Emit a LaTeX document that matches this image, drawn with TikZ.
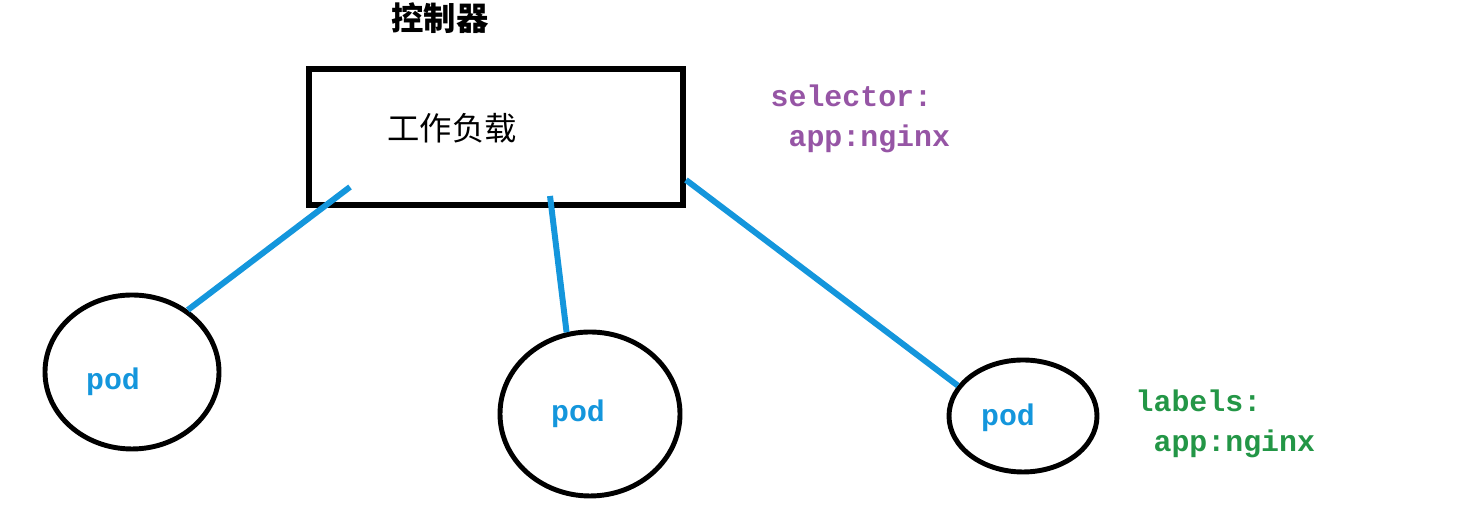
\documentclass[tikz,border=0pt]{standalone}
\usepackage{fontspec}
\setmonofont{Liberation Mono}
\newfontfamily\cjk{Noto Sans CJK SC}
\usetikzlibrary{shapes.geometric}

\definecolor{linkblue}{RGB}{20,150,220}
\definecolor{selpurple}{RGB}{150,85,165}
\definecolor{labgreen}{RGB}{35,150,70}

\begin{document}
\begin{tikzpicture}[
    font=\ttfamily\bfseries\fontsize{8.5}{11.4}\selectfont,
    work/.style={draw, line width=1.7pt, minimum width=3.74cm, minimum height=1.36cm, inner sep=0pt},
    pod/.style={draw, ellipse, line width=1.4pt, inner sep=0pt},
    podtext/.style={text=linkblue},
    link/.style={draw=linkblue, line width=1.7pt},
    note/.style={align=left, anchor=west, inner sep=0pt}
  ]
    \useasboundingbox (0,0) rectangle (14.69,5.06);
    % workload box and its titles
    \node[work] (wl) at (4.96,3.69) {};
    \node[font=\cjk\bfseries\fontsize{9.2}{11}\selectfont] (ctrl) at (4.40,4.88) {控制器};
    \node[font=\cjk\fontsize{9.2}{11}\selectfont] (wlname) at (4.52,3.78) {工作负载};
    % pods
    \node[pod, minimum width=1.74cm, minimum height=1.54cm,
      label={[podtext, xshift=-0.19cm, yshift=-0.10cm]center:pod}] (pod1) at (1.32,1.34) {};
    \node[pod, minimum width=1.80cm, minimum height=1.64cm,
      label={[podtext, xshift=-0.12cm]center:pod}] (pod2) at (5.90,0.92) {};
    \node[pod, minimum width=1.48cm, minimum height=1.12cm,
      label={[podtext, xshift=-0.15cm, yshift=-0.02cm]center:pod}] (pod3) at (10.23,0.90) {};
    % selector and labels
    \node[note, text=selpurple] (sel) at (7.70,3.87) {selector:\\~app:nginx};
    \node[note, text=labgreen] (lab) at (11.35,0.82) {labels:\\~app:nginx};
    % connections
    \draw[link] ([shift={(0.44,0.21)}]wl.south west) -- (pod1.48);
    \draw[link] ([shift={(2.44,0.12)}]wl.south west) -- (pod2.106);
    \draw[link] ([yshift=-0.43cm]wl.east) -- (pod3.155);
\end{tikzpicture}
\end{document}
